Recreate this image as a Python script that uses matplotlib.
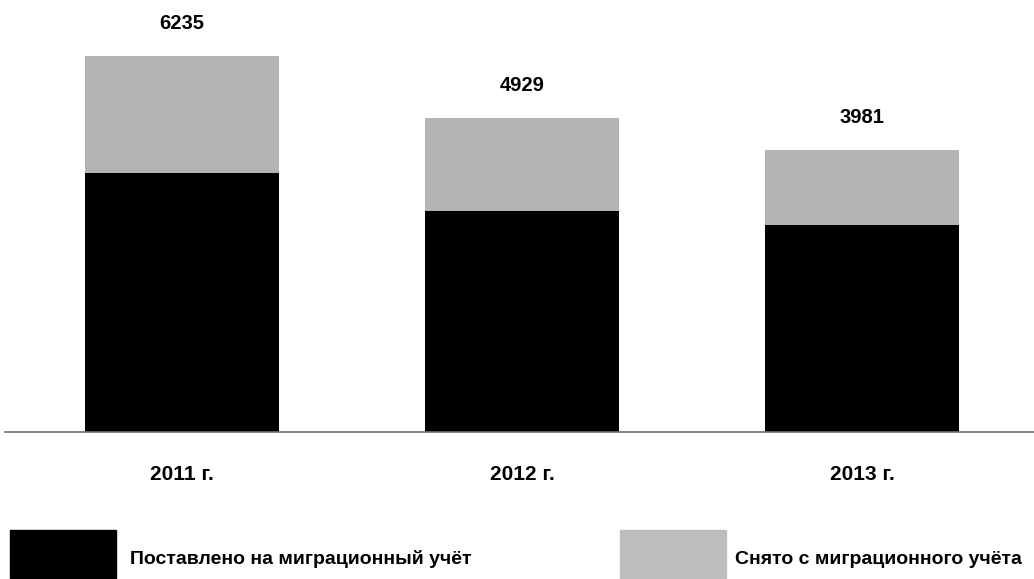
import matplotlib.pyplot as plt
from matplotlib.patches import Rectangle

years = ["2011 г.", "2012 г.", "2013 г."]
registered = [4290, 3665, 3427]      # Поставлено на миграционный учёт
deregistered = [1945, 1537, 1249]
totals = [6235, 4929, 3981]
legend_labels = ["Поставлено на миграционный учёт", "Снято с миграционного учёта"]

W, H = 1034, 579
plt.rcParams['font.family'] = ['Liberation Sans', 'DejaVu Sans']
plt.rcParams['font.weight'] = 'bold'

fig = plt.figure(figsize=(W / 100, H / 100), dpi=100)
ax = fig.add_axes([5 / W, (H - 432) / H, 1029 / W, 432 / H])

black = "#000000"
gray = "#b3b3b3"
x = range(len(years))
ax.bar(x, registered, width=0.57, color=black)
ax.bar(x, deregistered, width=0.57, bottom=registered, color=gray)

ax.set_xlim(-0.5206, 2.5059)
ax.set_ylim(0, 432 * 6235 / 376)

for i, (r, d, t) in enumerate(zip(registered, deregistered, totals)):
    ax.annotate(str(t), (i, r + d), xytext=(0, 23.4), textcoords="offset points",
                ha="center", va="center", fontsize=14.5, fontweight="bold")
    ax.annotate(years[i], (i, 0), xytext=(0, -30.5), textcoords="offset points",
                ha="center", va="center", fontsize=15, fontweight="bold")

for s in ["top", "left", "right"]:
    ax.spines[s].set_visible(False)
ax.spines["bottom"].set_color("#707070")
ax.spines["bottom"].set_linewidth(1.2)
ax.set_xticks([])
ax.set_yticks([])

# legend drawn by hand, boxes along the bottom edge
for (x0, tx, col, lab) in [(10, 130, black, legend_labels[0]),
                           (620, 735, "#bcbdbf", legend_labels[1])]:
    fig.patches.append(Rectangle((x0 / W, 1 / H), 106 / W, 48 / H,
                                 transform=fig.transFigure, color=col))
    fig.text(tx / W, (H - 559) / H, lab, ha="left", va="center",
             fontsize=14, fontweight="bold")

fig.savefig("out.png", dpi=100)
